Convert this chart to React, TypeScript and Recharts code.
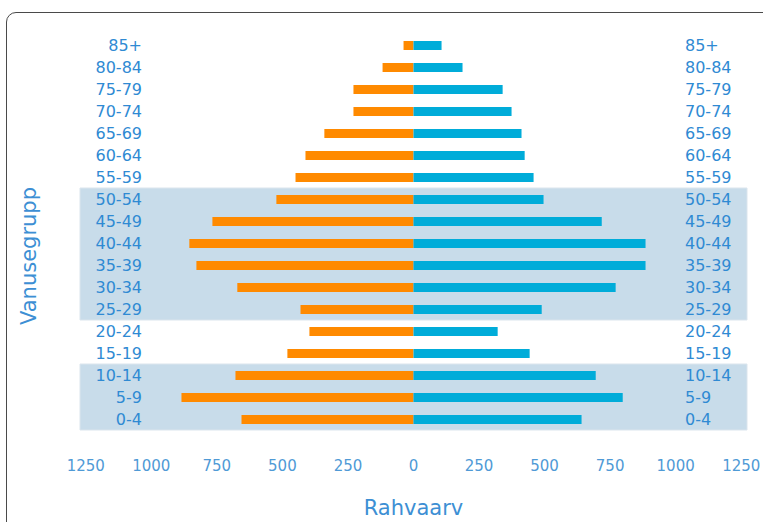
import React from 'react'
import { BarChart, Bar, XAxis, YAxis, ReferenceArea, Label } from 'recharts'

const ageGroups = ['85+', '80-84', '75-79', '70-74', '65-69', '60-64', '55-59', '50-54', '45-49', '40-44', '35-39', '30-34', '25-29', '20-24', '15-19', '10-14', '5-9', '0-4']
const leftValues = [38, 118, 229, 229, 340, 412, 450, 523, 767, 855, 828, 672, 431, 397, 481, 679, 885, 656]
const rightValues = [107, 187, 340, 374, 412, 424, 458, 496, 718, 885, 885, 771, 489, 321, 443, 695, 798, 641]
const xTicks = [-1250, -1000, -750, -500, -250, 0, 250, 500, 750, 1000, 1250]
const bands = [['50-54', '25-29'], ['10-14', '0-4']]

const data = ageGroups.map((g, i) => ({ group: g, left: -leftValues[i], right: rightValues[i] }))

const font = '"DejaVu Sans", sans-serif'
const labelColor = '#2f8ad3'

const LeftTick = (props: any) => (
  <text x={props.x + 54} y={props.y} dy="0.35em" textAnchor="end" fill={labelColor} fontSize={16} fontFamily={font}>
    {props.payload.value}
  </text>
)

const RightTick = (props: any) => (
  <text x={props.x - 54} y={props.y} dy="0.35em" textAnchor="start" fill={labelColor} fontSize={16} fontFamily={font}>
    {props.payload.value}
  </text>
)

const App = () => {
  return (
    <div style={{ position: 'fixed', left: 0, top: 0, width: 763, height: 522, overflow: 'hidden', background: '#fff' }}>
      {/* card frame, runs past the right and bottom edges */}
      <div style={{ position: 'absolute', left: 6, top: 12, width: 800, height: 600, border: '1.5px solid #4a4a4a', borderRadius: 10 }} />
      <div style={{ position: 'absolute', left: 8, top: 8 }}>
        <BarChart width={755} height={514} data={data} layout="vertical" stackOffset="sign"
          margin={{ top: 26, right: 16, left: 72, bottom: 0 }}>
          {bands.map((b) => (
            <ReferenceArea key={b[0]} yAxisId="left" y1={b[0]} y2={b[1]} fill="#c8dcea" fillOpacity={1} stroke="#dbe5ed" strokeWidth={1} />
          ))}
          <XAxis type="number" domain={[-1272, 1272]} ticks={xTicks} tickFormatter={(v: number) => String(Math.abs(v))}
            axisLine={false} tickLine={false} tickMargin={24} height={92}
            tick={{ fill: '#4f9ad6', fontSize: 15, fontFamily: font }}>
            <Label value="Rahvaarv" position="insideBottom" offset={7} fill="#3d8fd4" fontSize={21} fontFamily={font} />
          </XAxis>
          <YAxis yAxisId="left" type="category" dataKey="group" orientation="left" mirror axisLine={false} tickLine={false} tick={<LeftTick />} interval={0} />
          <YAxis yAxisId="right" type="category" dataKey="group" orientation="right" mirror axisLine={false} tickLine={false} tick={<RightTick />} interval={0} />
          <Bar yAxisId="left" dataKey="left" stackId="a" fill="#ff8a00" barSize={9} isAnimationActive={false} />
          <Bar yAxisId="left" dataKey="right" stackId="a" fill="#00acd9" barSize={9} isAnimationActive={false} />
        </BarChart>
      </div>
      <div style={{ position: 'absolute', left: 29, top: 256, transform: 'translate(-50%, -50%) rotate(-90deg)', color: '#3d8fd4', fontSize: 21, fontFamily: font, whiteSpace: 'nowrap' }}>
        Vanusegrupp
      </div>
    </div>
  )
}

export default App
